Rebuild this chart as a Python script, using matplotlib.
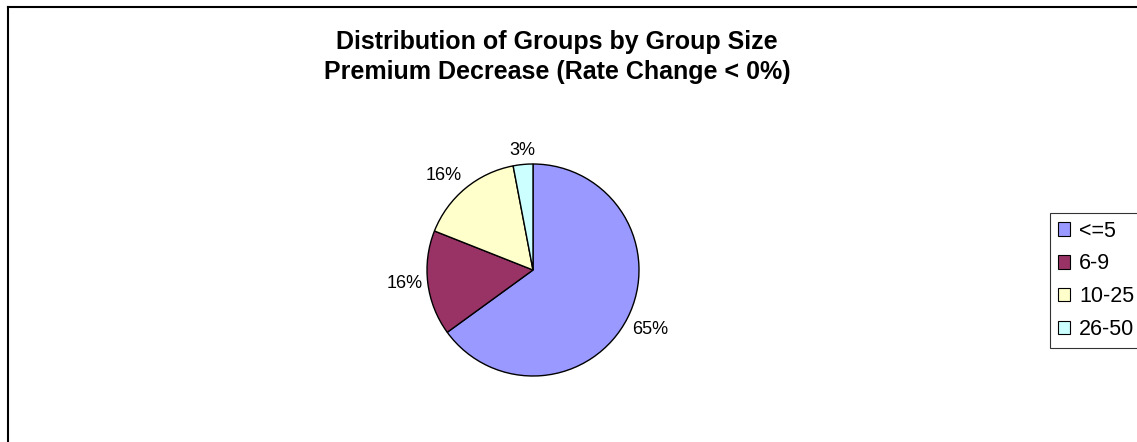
import matplotlib
matplotlib.use("Agg")
import matplotlib.pyplot as plt
import numpy as np
from matplotlib.lines import Line2D
from matplotlib.patches import Patch

plt.rcParams['font.family'] = ['Liberation Sans', 'DejaVu Sans']

# group size buckets and share of groups (%)
groups = ['<=5', '6-9', '10-25', '26-50']
shares = [65, 16, 16, 3]
colors = ['#9999FF', '#993366', '#FFFFCC', '#CCFFFF']

W, H = 1137, 442
fig = plt.figure(figsize=(W / 100, H / 100), dpi=100)

# chart area frame (runs off the right and bottom edges)
fig.add_artist(Line2D([8 / W, 8 / W], [0, 1 - 7 / H], color='black', lw=1.5))
fig.add_artist(Line2D([8 / W, 1], [1 - 7 / H, 1 - 7 / H], color='black', lw=1.5))

fig.text(557 / W, 1 - 57 / H,
         'Distribution of Groups by Group Size\nPremium Decrease (Rate Change < 0%)',
         ha='center', va='center', fontsize=18, fontweight='bold', linespacing=1.3)

cx, cy, r = 533, 270, 106
ax = fig.add_axes([(cx - r) / W, (H - cy - r) / H, 2 * r / W, 2 * r / H])
wedges, _ = ax.pie(shares, colors=colors, startangle=90, counterclock=False,
                   wedgeprops=dict(edgecolor='black', linewidth=1.0))
ax.set_xlim(-1, 1)
ax.set_ylim(-1, 1)
ax.set_aspect('equal')

# percentage labels just outside each slice, aligned away from the pie
for w, v in zip(wedges, shares):
    ang = np.deg2rad((w.theta1 + w.theta2) / 2)
    c, s = np.cos(ang), np.sin(ang)
    ha = 'left' if c > 0.1 else ('right' if c < -0.1 else 'center')
    va = 'bottom' if s > 0.2 else ('top' if s < -0.2 else 'center')
    ax.text(1.05 * c, 1.05 * s, f'{v}%', ha=ha, va=va, fontsize=13)

handles = [Patch(facecolor=c, edgecolor='black', linewidth=0.8) for c in colors]
leg = fig.legend(handles, groups, loc='upper left',
                 bbox_to_anchor=(1050 / W, 1 - 213 / H),
                 fontsize=15.5, frameon=True, fancybox=False, borderpad=0.35,
                 handlelength=0.6, handleheight=0.6, handletextpad=0.4,
                 labelspacing=0.55, borderaxespad=0)
leg.get_frame().set_edgecolor('black')
leg.get_frame().set_linewidth(0.8)

fig.savefig('out.png', dpi=100)
